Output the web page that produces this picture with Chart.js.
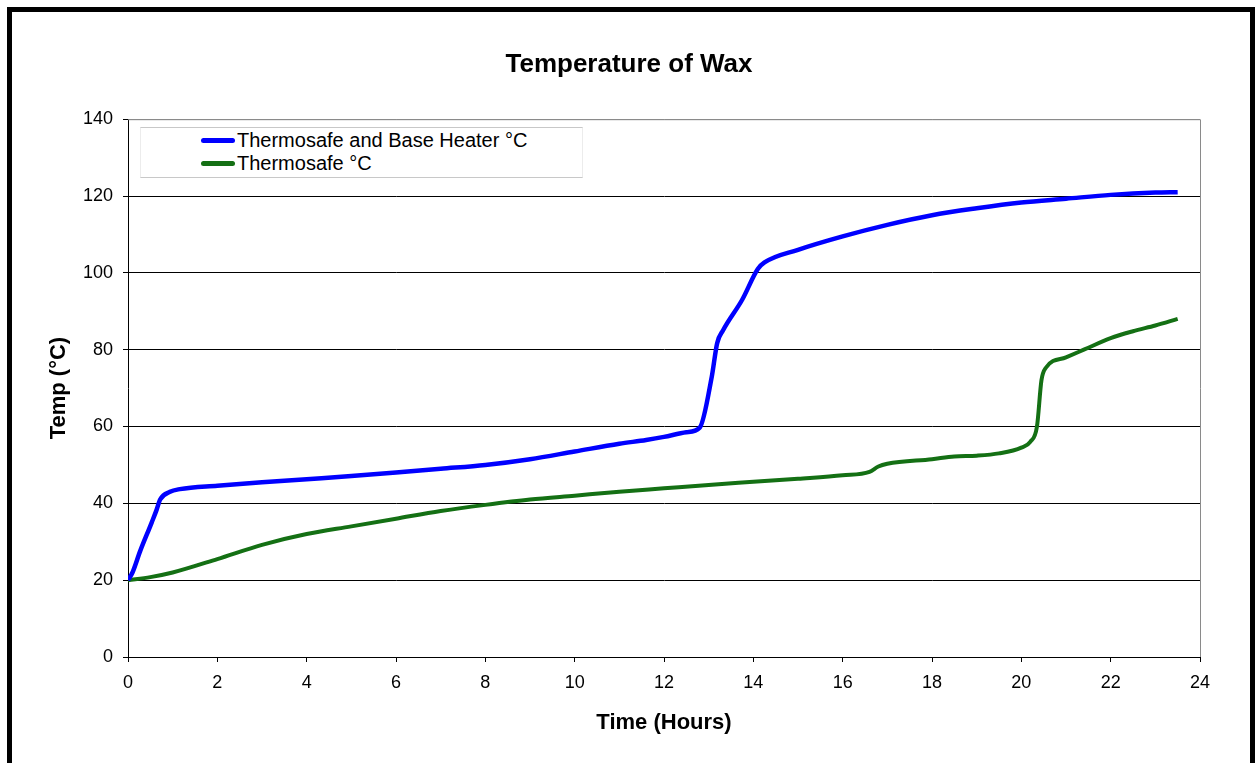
<!DOCTYPE html>
<html>
<head>
<meta charset="utf-8">
<script src="https://cdn.jsdelivr.net/npm/chart.js@4.4.0/dist/chart.umd.min.js"></script>
<style>
	html, body { margin: 0; padding: 0; background: #fff; }
	#wrap { position: relative; width: 1258px; height: 763px; overflow: hidden; }
	#frame {
		position: absolute; left: 7px; top: 7px; width: 1238px; height: 800px;
		border: 5px solid #000; border-bottom: none; pointer-events: none;
	}
	#legend {
		position: absolute; left: 140px; top: 127px; width: 441px; height: 49px;
		border-top: 1px solid #c8c8c8; border-bottom: 1px solid #c8c8c8;
		border-left: 1px solid #ececec; border-right: 1px solid #ececec;
		background: #fff;
		font-family: "Liberation Sans", Arial, sans-serif; font-size: 20px; color: #000;
	}
	.item { position: absolute; left: 60px; height: 23px; line-height: 23px; white-space: nowrap; }
	.item span.swatch {
		display: inline-block; width: 34px; height: 5px; border-radius: 3px;
		vertical-align: middle; margin-right: 2px; position: relative; top: -1px;
	}
</style>
</head>
<body>
<div id="wrap">
	<canvas id="chart" width="1258" height="763"></canvas>
	<div id="legend"></div>
	<div id="frame"></div>
</div>
<script>
// data
var seriesNames = ["Thermosafe and Base Heater °C", "Thermosafe °C"];
var seriesColors = ["#0000ff", "#147014"];

var heaterHours = [0, 0.1, 0.27, 0.53, 0.64, 0.72, 0.94, 1.16, 2, 3, 4, 5, 6, 7, 8, 9, 10, 11, 11.6, 12, 12.5, 12.8,
	13.07, 13.19, 13.32, 13.75, 14.1, 14.25, 15, 16, 17, 18, 19, 20, 21, 22, 23, 23.5];
var heaterTemp = [20, 22, 27.5, 35, 38.3, 41, 43, 43.7, 44.6, 45.5, 46.3, 47.1, 48, 49, 50, 51.5, 53.5, 55.5, 56.5, 57.3, 58.5, 59.7,
	73, 81.7, 85, 93, 101, 102.7, 106, 109.5, 112.5, 115, 116.8, 118.3, 119.3, 120.3, 120.9, 121];

var safeHours = [0, 0.5, 1, 2, 3, 4, 5, 6, 7, 8, 9, 10, 11, 12, 13, 14, 15, 16, 16.6, 16.8, 17, 18, 18.5, 19, 19.5,
	20, 20.2, 20.35, 20.45, 20.55, 21, 21.4, 22, 22.5, 23, 23.5];
var safeTemp = [20, 20.8, 22, 25.5, 29.2, 32, 34, 36, 38, 39.6, 41, 42, 43, 43.9, 44.8, 45.6, 46.4, 47.3, 48.2, 49.6, 50.3,
	51.5, 52.2, 52.4, 53, 54.5, 56, 60, 72, 75.3, 78, 80, 83, 84.8, 86.3, 88];

var xTicks = [0, 2, 4, 6, 8, 10, 12, 14, 16, 18, 20, 22, 24];
var yTicks = [0, 20, 40, 60, 80, 100, 120, 140];

var FONT = "'Liberation Sans', Arial, sans-serif";

function toPoints(xs, ys) {
	var pts = [];
	for (var i = 0; i < xs.length; i++) pts.push({ x: xs[i], y: ys[i] });
	return pts;
}

// grey border on the top and right of the plot
var plotBorder = {
	id: "plotBorder",
	beforeDatasetsDraw: function (chart) {
		var a = chart.chartArea, ctx = chart.ctx;
		ctx.save();
		ctx.strokeStyle = "#8a8a8a";
		ctx.lineWidth = 1;
		ctx.beginPath();
		ctx.moveTo(a.left, a.top + 0.5);
		ctx.lineTo(a.right + 0.5, a.top + 0.5);
		ctx.lineTo(a.right + 0.5, a.bottom);
		ctx.stroke();
		ctx.restore();
	}
};

var chart = new Chart(document.getElementById("chart"), {
	type: "scatter",
	data: {
		datasets: [
			{
				label: seriesNames[0],
				data: toPoints(heaterHours, heaterTemp),
				showLine: true,
				borderColor: seriesColors[0],
				backgroundColor: seriesColors[0],
				borderWidth: 4.5,
				pointRadius: 0,
				cubicInterpolationMode: "monotone"
			},
			{
				label: seriesNames[1],
				data: toPoints(safeHours, safeTemp),
				showLine: true,
				borderColor: seriesColors[1],
				backgroundColor: seriesColors[1],
				borderWidth: 4,
				pointRadius: 0,
				cubicInterpolationMode: "monotone"
			}
		]
	},
	options: {
		responsive: false,
		animation: false,
		layout: { padding: 0 },
		plugins: {
			legend: { display: false },
			tooltip: { enabled: false },
			title: {
				display: true,
				text: "Temperature of Wax",
				color: "#000",
				font: { family: FONT, size: 26, weight: "bold" },
				padding: { top: 49, bottom: 39 }
			}
		},
		scales: {
			x: {
				type: "linear",
				min: 0,
				max: 24,
				afterFit: function (s) { s.height = 106; },
				afterBuildTicks: function (s) { s.ticks = xTicks.map(function (v) { return { value: v }; }); },
				ticks: { color: "#000", font: { family: FONT, size: 18 }, padding: 10, maxRotation: 0 },
				grid: { drawOnChartArea: false, drawTicks: true, tickLength: 5, tickColor: "#000" },
				border: { color: "#000", width: 1 },
				title: {
					display: true,
					text: "Time (Hours)",
					color: "#000",
					font: { family: FONT, size: 22, weight: "bold" },
					padding: { top: 0, bottom: 27 }
				}
			},
			y: {
				min: 0,
				max: 140,
				afterFit: function (s) { s.width = 128; },
				afterBuildTicks: function (s) { s.ticks = yTicks.map(function (v) { return { value: v }; }); },
				ticks: { color: "#000", font: { family: FONT, size: 18 }, padding: 10 },
				grid: {
					color: function (c) { return c.tick && c.tick.value === 140 ? "#8a8a8a" : "#000"; },
					tickColor: "#000",
					tickLength: 5,
					lineWidth: 1
				},
				border: { color: "#000", width: 1 },
				title: {
					display: true,
					text: "Temp (°C)",
					color: "#000",
					font: { family: FONT, size: 22, weight: "bold" },
					padding: { top: 46, bottom: 0 }
				}
			},
			// empty right-hand axis, only keeps space so the plot ends where the reference does
			yRight: {
				position: "right",
				min: 0,
				max: 140,
				afterFit: function (s) { s.width = 58; },
				ticks: { display: false },
				grid: { display: false },
				border: { display: false }
			}
		}
	},
	plugins: [plotBorder]
});

// legend drawn as html, built from the datasets
var legendBox = document.getElementById("legend");
chart.data.datasets.forEach(function (ds, i) {
	var row = document.createElement("div");
	row.className = "item";
	row.style.top = (1 + i * 23) + "px";
	var sw = document.createElement("span");
	sw.className = "swatch";
	sw.style.background = ds.borderColor;
	row.appendChild(sw);
	row.appendChild(document.createTextNode(ds.label));
	legendBox.appendChild(row);
});
</script>
</body>
</html>
